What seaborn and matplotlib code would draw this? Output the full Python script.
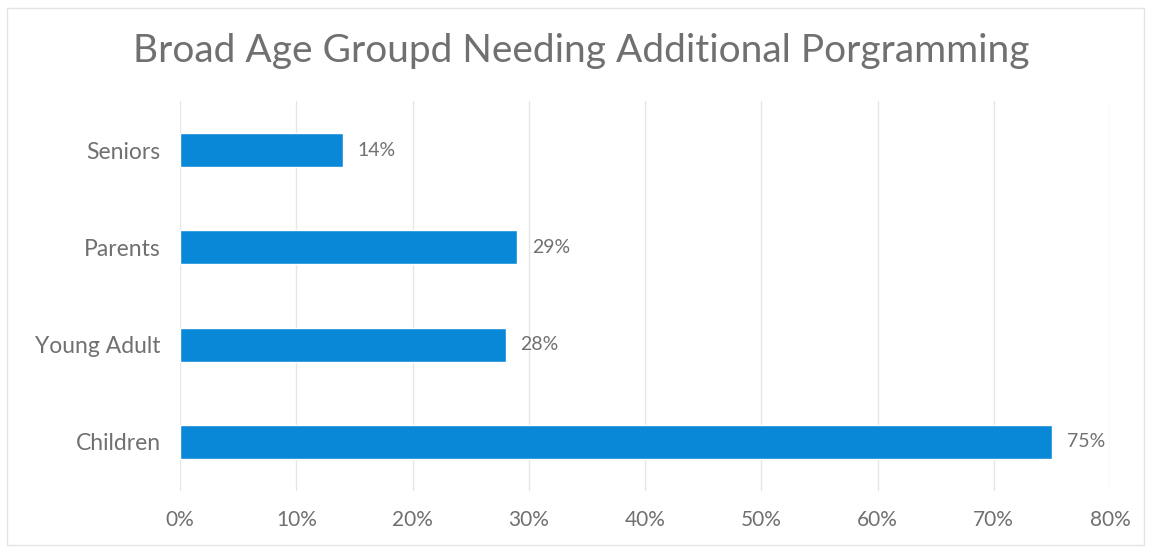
import matplotlib
matplotlib.use("Agg")
import matplotlib.pyplot as plt
import seaborn as sns
import pandas as pd
from matplotlib.ticker import FuncFormatter

# data
groups = ["Seniors", "Parents", "Young Adult", "Children"]
shares = [14, 29, 28, 75]
x_ticks = [0, 10, 20, 30, 40, 50, 60, 70, 80]

df = pd.DataFrame({"group": groups, "share": shares})

sns.set_theme(style="white")
plt.rcParams["font.family"] = ["Lato", "DejaVu Sans"]

text_col = "#707070"
bar_col = "#0a88d8"

fig = plt.figure(figsize=(11.51, 5.5), dpi=100)
ax = fig.add_axes([0.1564, 0.108, 0.808, 0.7075])

sns.barplot(data=df, x="share", y="group", order=groups, color=bar_col,
            width=0.35, saturation=1, ax=ax)

for i, v in enumerate(shares):
    ax.text(v + 1.3, i, f"{v}%", va="center", ha="left", fontsize=14, color=text_col)

ax.set_xlim(0, 80)
ax.set_xticks(x_ticks)
ax.xaxis.set_major_formatter(FuncFormatter(lambda v, p: f"{v:.0f}%"))
ax.grid(axis="x", color="#e6e6e6", linewidth=1)
ax.set_axisbelow(True)
for s in ax.spines.values():
    s.set_visible(False)
ax.tick_params(axis="both", length=0, labelcolor=text_col)
ax.tick_params(axis="y", pad=14, labelsize=16.5)
ax.tick_params(axis="x", pad=14, labelsize=15)
ax.set_xlabel("")
ax.set_ylabel("")

fig.suptitle("Broad Age Groupd Needing Additional Porgramming", x=0.505, y=0.907,
             va="center", fontsize=28, color=text_col)

# faint outer frame of the chart area
fig.patches.append(plt.Rectangle((0.006, 0.01), 0.988, 0.975, transform=fig.transFigure,
                                 fill=False, edgecolor="#e4e4e4", linewidth=1))

fig.savefig("out.png", dpi=100)
